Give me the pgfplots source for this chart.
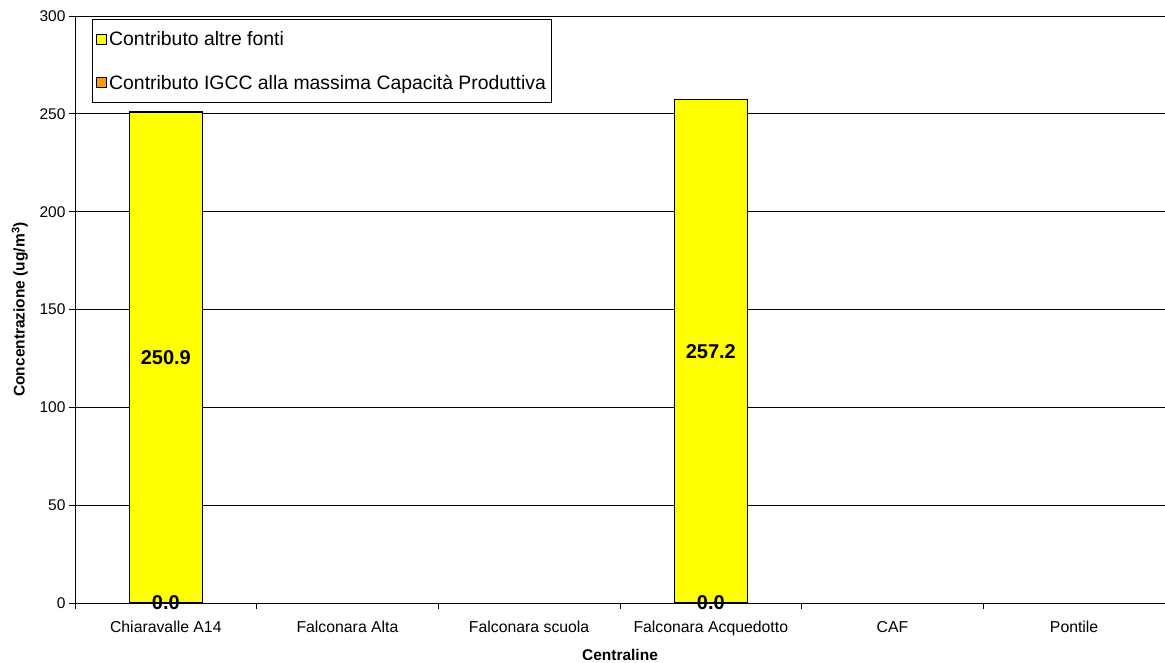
\documentclass[border=0pt]{standalone}
\usepackage{pgfplots}
\pgfplotsset{compat=1.18}
\usepackage{fontspec}
\setmainfont{Liberation Sans}
\definecolor{ylw}{HTML}{FFFF00}
\definecolor{org}{HTML}{FF9900}
\pgfplotsset{
  sqlegend/.style={legend image code/.code={\draw[##1, draw=black, line width=0.8pt] (2pt,-5pt) rectangle (12pt,5pt);}},
}
\begin{document}
\begin{tikzpicture}
\begin{axis}[
  scale only axis, width=1090pt, height=587pt,
  at={(0pt,0pt)}, anchor=south west,
  xmin=-0.5, xmax=5.5, ymin=0, ymax=300,
  axis x line*=bottom, axis y line*=left,
  axis line style={black, line width=0.8pt},
  ytick={0,50,...,300},
  ymajorgrids, grid style={black, line width=0.8pt},
  xtick={0,...,5},
  xticklabels={Chiaravalle A14, Falconara Alta, Falconara scuola, Falconara Acquedotto, CAF, Pontile},
  major x tick style={draw=none},
  minor xtick={-0.5,0.5,...,5.5},
  minor x tick style={black, line width=0.8pt},
  major y tick style={black, line width=0.8pt},
  tick align=outside, major tick length=6pt, minor tick length=6pt,
  /pgf/number format/assume math mode=true,
  yticklabel style={font=\fontsize{15.5}{18}\selectfont},
  xticklabel style={font=\fontsize{15.8}{18}\selectfont, yshift=-9pt},
  xlabel={Centraline},
  ylabel={Concentrazione (ug/m\textsuperscript{3})},
  every axis x label/.style={at={(axis description cs:0.5,-0.0886)}, anchor=center, font=\bfseries\fontsize{15.5}{18}\selectfont},
  every axis y label/.style={at={(axis description cs:-0.0505,0.5)}, rotate=90, anchor=center, font=\bfseries\fontsize{15.5}{18}\selectfont},
  legend style={at={(axis description cs:0.0156,0.995)}, anchor=north west, draw=black, line width=0.8pt, fill=white,
    font=\fontsize{19.4}{22}\selectfont, inner xsep=4pt, inner ysep=10pt, row sep=24pt, cells={anchor=west}},
]
\addplot[ybar, bar width=73pt, bar shift=0pt, fill=ylw, draw=black, line width=1.2pt, sqlegend]
  coordinates {(0,250.9) (3,257.2)};
\addlegendentry{Contributo altre fonti}
\addplot[ybar, bar width=73pt, bar shift=0pt, fill=org, draw=black, line width=1.2pt, sqlegend]
  coordinates {(0,0) (3,0)};
\addlegendentry{Contributo IGCC alla massima Capacità Produttiva}
\addplot[draw=none, mark=none, forget plot, nodes near coords, point meta=explicit symbolic,
  every node near coord/.style={anchor=center, font=\bfseries\fontsize{20}{24}\selectfont}]
  coordinates {(0,125.45) [250.9] (3,128.6) [257.2] (0,0) [0.0] (3,0) [0.0]};
\end{axis}
\pgfresetboundingbox
\path[use as bounding box] (-75pt,-59pt) rectangle (1090pt,603pt);
\end{tikzpicture}
\end{document}
